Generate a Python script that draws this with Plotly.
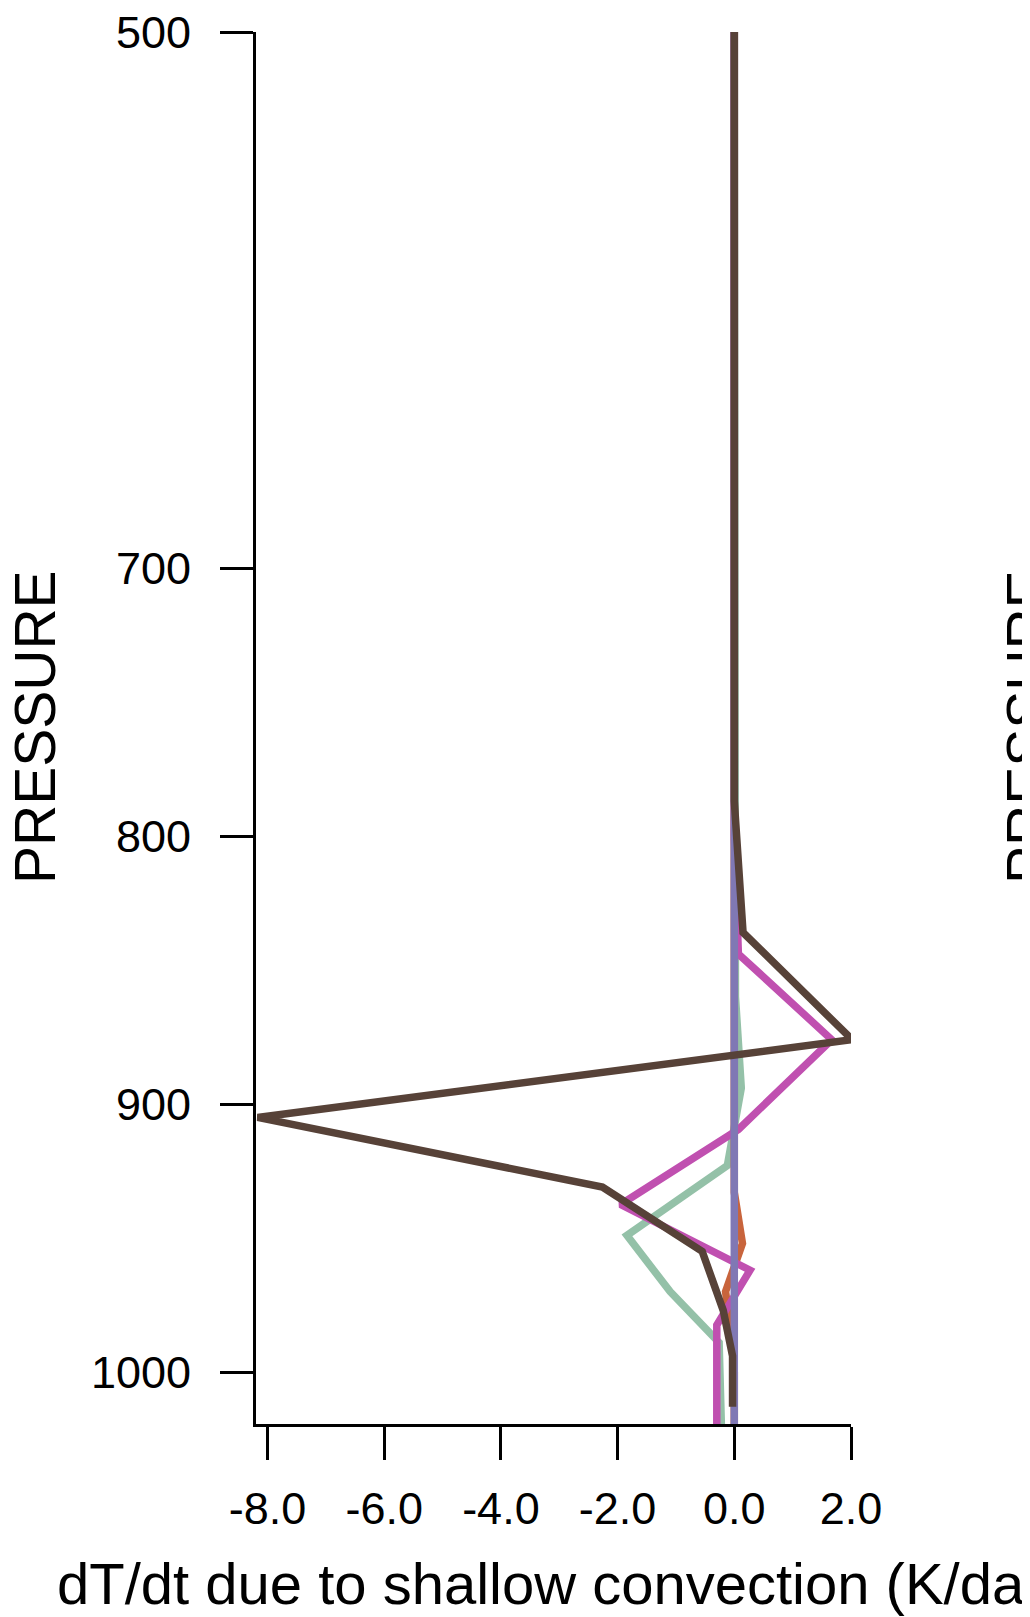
import plotly.graph_objects as go

# ---- data ----
x_tick_vals = [-8.0, -6.0, -4.0, -2.0, 0.0, 2.0]
x_tick_text = ["-8.0", "-6.0", "-4.0", "-2.0", "0.0", "2.0"]
y_tick_vals = [500, 700, 800, 900, 1000]
y_tick_text = ["500", "700", "800", "900", "1000"]

green_p = [500, 860, 894, 923, 949, 970, 989, 1021]
green_x = [0.0, 0.02, 0.12, -0.12, -1.84, -1.10, -0.26, -0.22]

orange_p = [500, 933, 952, 970, 983, 1000, 1021]
orange_x = [0.0, 0.0, 0.14, -0.15, -0.07, 0.0, 0.0]

magenta_p = [500, 800, 844, 876, 909.5, 937.5, 962, 982.5, 1021]
magenta_x = [0.0, 0.0, 0.07, 1.67, 0.07, -1.95, 0.27, -0.30, -0.30]

purple_p = [500, 800, 900, 1000, 1021]
purple_x = [0.0, 0.0, 0.0, 0.0, 0.0]

brown_p = [500, 787, 836, 876, 905, 931, 955, 977, 994, 1013]
brown_x = [0.0, 0.0, 0.15, 2.02, -8.17, -2.26, -0.55, -0.19, -0.03, -0.03]

series = [
    ("green", green_x, green_p, "#94c1a8"),
    ("orange", orange_x, orange_p, "#c8643c"),
    ("magenta", magenta_x, magenta_p, "#c050b0"),
    ("purple", purple_x, purple_p, "#8078b4"),
    ("brown", brown_x, brown_p, "#574238"),
]

# page has an 8px body margin; figure sized so plot lands where reference has it
OFF = 8
W, H = 1030 - OFF, 1617 - OFF
L, T = 256 - OFF, 32 - OFF
R = W - (851 - OFF)
B = H - (1424 - OFF)
pw, ph = W - L - R, H - T - B

fig = go.Figure()
for name, xs, ps, col in series:
    fig.add_trace(go.Scatter(x=xs, y=ps, mode="lines", name=name,
                             line=dict(color=col, width=7.5),
                             showlegend=False, hoverinfo="skip"))

font = "Liberation Sans, Arial, sans-serif"
axis_common = dict(showgrid=False, zeroline=False, showline=True,
                   linecolor="black", linewidth=2.7, ticks="outside",
                   ticklen=33, tickwidth=2.7, tickcolor="black",
                   tickfont=dict(family=font, size=45, color="black"),
                   ticklabeloverflow="allow", mirror=False)

fig.update_xaxes(range=[-8.197, 2.0], tickmode="array", tickvals=x_tick_vals,
                 ticktext=x_tick_text, ticklabelstandoff=10, **axis_common)
fig.update_yaxes(range=[1019.4, 500], tickmode="array", tickvals=y_tick_vals,
                 ticktext=y_tick_text, ticklabelstandoff=20, **axis_common)

def px_x(px):
    return (px - OFF - L) / pw

def px_y(py):
    return (H - B - (py - OFF)) / ph

fig.add_annotation(text="dT/dt due to shallow convection (K/day)",
                   x=px_x(565), y=px_y(1583), xref="paper", yref="paper",
                   xanchor="center", yanchor="middle", showarrow=False,
                   font=dict(family=font, size=58, color="black"))
fig.add_annotation(text="PRESSURE", textangle=-90,
                   x=px_x(35), y=px_y(727), xref="paper", yref="paper",
                   xanchor="center", yanchor="middle", showarrow=False,
                   font=dict(family=font, size=57, color="black"))
fig.add_annotation(text="PRESSURE", textangle=-90,
                   x=px_x(1027), y=px_y(727), xref="paper", yref="paper",
                   xanchor="center", yanchor="middle", showarrow=False,
                   font=dict(family=font, size=57, color="black"))

fig.update_layout(width=W, height=H, margin=dict(l=L, r=R, t=T, b=B, pad=0),
                  paper_bgcolor="white", plot_bgcolor="white",
                  template="none")

fig.write_html("out.html")
